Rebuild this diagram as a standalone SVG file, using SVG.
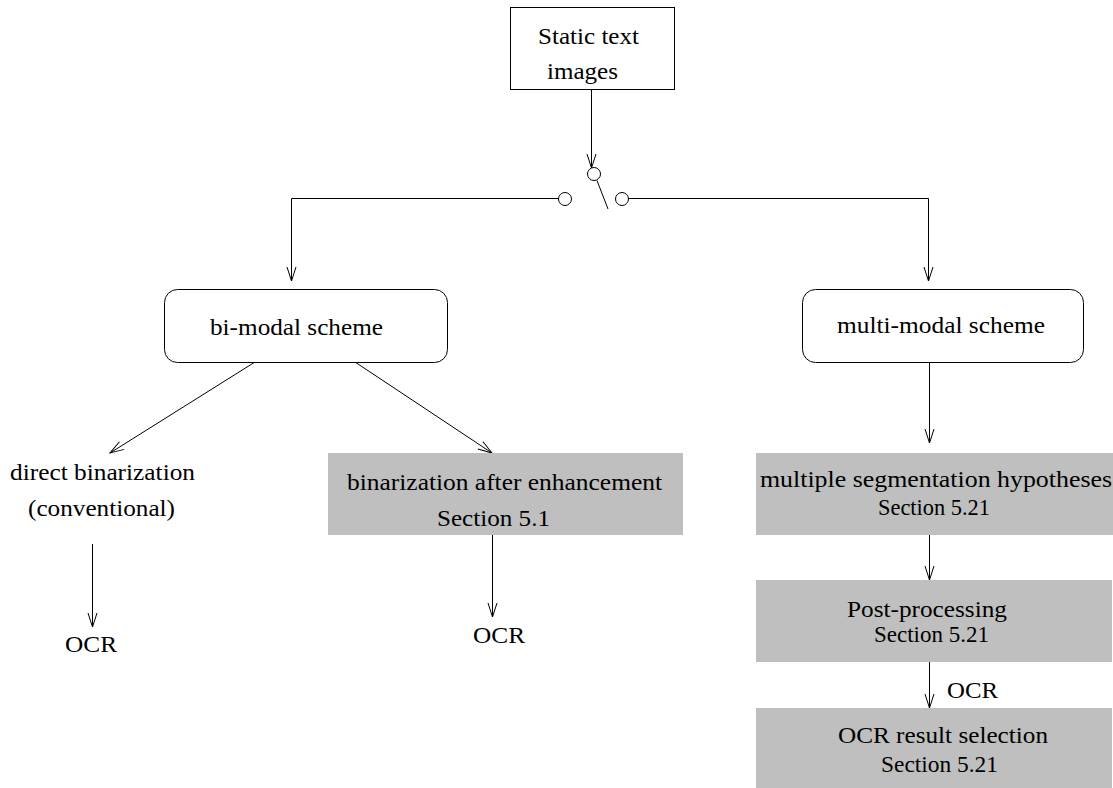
<svg xmlns="http://www.w3.org/2000/svg" width="1113" height="788" viewBox="0 0 1113 788">
  <style>
    .lbl { font-family: "Liberation Serif", "Times New Roman", serif; font-size: 23px; fill: #000; }
    .box { fill: #fff; stroke: #000; stroke-width: 1; }
    .step { fill: #bfbfbf; stroke: none; }
    .wire { fill: none; stroke: #000; stroke-width: 1; }
    .pin { fill: #fff; stroke: #000; stroke-width: 1; }
  </style>
  <defs>
    <marker id="vhead" markerUnits="userSpaceOnUse" markerWidth="20" markerHeight="20" viewBox="-16 -8 20 16" refX="0" refY="0" orient="auto">
      <path d="M-14,-4.5 L0,0 L-14,4.5" fill="none" stroke="#000" stroke-width="1"/>
    </marker>
  </defs>
  <rect width="1113" height="788" fill="#fff"/>

  <!-- connectors -->
  <g id="connectors">
    <line class="wire" x1="591.5" y1="89" x2="591.5" y2="168" marker-end="url(#vhead)"/>
    <polyline class="wire" points="558.5,198.5 291.5,198.5 291.5,281" marker-end="url(#vhead)"/>
    <polyline class="wire" points="628.5,198.5 928.5,198.5 928.5,281" marker-end="url(#vhead)"/>
    <line class="wire" x1="597" y1="180.5" x2="608" y2="209"/>
    <line class="wire" x1="255" y1="362" x2="110" y2="453" marker-end="url(#vhead)"/>
    <line class="wire" x1="355" y1="362" x2="492" y2="453" marker-end="url(#vhead)"/>
    <line class="wire" x1="92.5" y1="544" x2="92.5" y2="627" marker-end="url(#vhead)"/>
    <line class="wire" x1="492.5" y1="535" x2="492.5" y2="617" marker-end="url(#vhead)"/>
    <line class="wire" x1="929.5" y1="362" x2="929.5" y2="443" marker-end="url(#vhead)"/>
    <line class="wire" x1="929.5" y1="535" x2="929.5" y2="580" marker-end="url(#vhead)"/>
    <line class="wire" x1="929.5" y1="662" x2="929.5" y2="708" marker-end="url(#vhead)"/>
    <text class="lbl" x="947" y="698" textLength="51" lengthAdjust="spacingAndGlyphs">OCR</text>
  </g>

  <!-- switch contacts -->
  <g id="switch">
    <circle class="pin" cx="594" cy="174" r="6.5"/>
    <circle class="pin" cx="565" cy="199" r="6.5"/>
    <circle class="pin" cx="622" cy="199" r="6.5"/>
  </g>

  <g id="source">
    <rect class="box" x="510.5" y="7.5" width="164" height="82"/>
    <text class="lbl" x="538" y="44" textLength="101" lengthAdjust="spacingAndGlyphs">Static text</text>
    <text class="lbl" x="547" y="79" textLength="71" lengthAdjust="spacingAndGlyphs">images</text>
  </g>

  <g id="bimodal">
    <rect class="box" x="164.5" y="289.5" width="283" height="73" rx="13"/>
    <text class="lbl" x="210" y="335" textLength="173" lengthAdjust="spacingAndGlyphs">bi-modal scheme</text>
  </g>

  <g id="multimodal">
    <rect class="box" x="802.5" y="289.5" width="281" height="73" rx="13"/>
    <text class="lbl" x="837" y="333" textLength="208" lengthAdjust="spacingAndGlyphs">multi-modal scheme</text>
  </g>

  <g id="direct">
    <text class="lbl" x="10" y="480" textLength="185" lengthAdjust="spacingAndGlyphs">direct binarization</text>
    <text class="lbl" x="28" y="516" textLength="147" lengthAdjust="spacingAndGlyphs">(conventional)</text>
  </g>

  <g id="ocr-direct">
    <text class="lbl" x="65" y="652" textLength="52" lengthAdjust="spacingAndGlyphs">OCR</text>
  </g>

  <g id="enhanced">
    <rect class="step" x="328" y="453" width="355" height="82"/>
    <text class="lbl" x="347" y="490" textLength="315" lengthAdjust="spacingAndGlyphs">binarization after enhancement</text>
    <text class="lbl" x="437" y="526" textLength="113" lengthAdjust="spacingAndGlyphs">Section 5.1</text>
  </g>

  <g id="ocr-enhanced">
    <text class="lbl" x="473" y="643" textLength="52" lengthAdjust="spacingAndGlyphs">OCR</text>
  </g>

  <g id="hypotheses">
    <rect class="step" x="756" y="453" width="357" height="82"/>
    <text class="lbl" x="760" y="487" textLength="352" lengthAdjust="spacingAndGlyphs">multiple segmentation hypotheses</text>
    <text class="lbl" x="878" y="515" textLength="112" lengthAdjust="spacingAndGlyphs">Section 5.21</text>
  </g>

  <g id="postprocessing">
    <rect class="step" x="756" y="580" width="356" height="82"/>
    <text class="lbl" x="847" y="617" textLength="160" lengthAdjust="spacingAndGlyphs">Post-processing</text>
    <text class="lbl" x="874" y="642" textLength="115" lengthAdjust="spacingAndGlyphs">Section 5.21</text>
  </g>

  <g id="selection">
    <rect class="step" x="756" y="708" width="356" height="80"/>
    <text class="lbl" x="838" y="743" textLength="210" lengthAdjust="spacingAndGlyphs">OCR result selection</text>
    <text class="lbl" x="881" y="772" textLength="117" lengthAdjust="spacingAndGlyphs">Section 5.21</text>
  </g>
</svg>
